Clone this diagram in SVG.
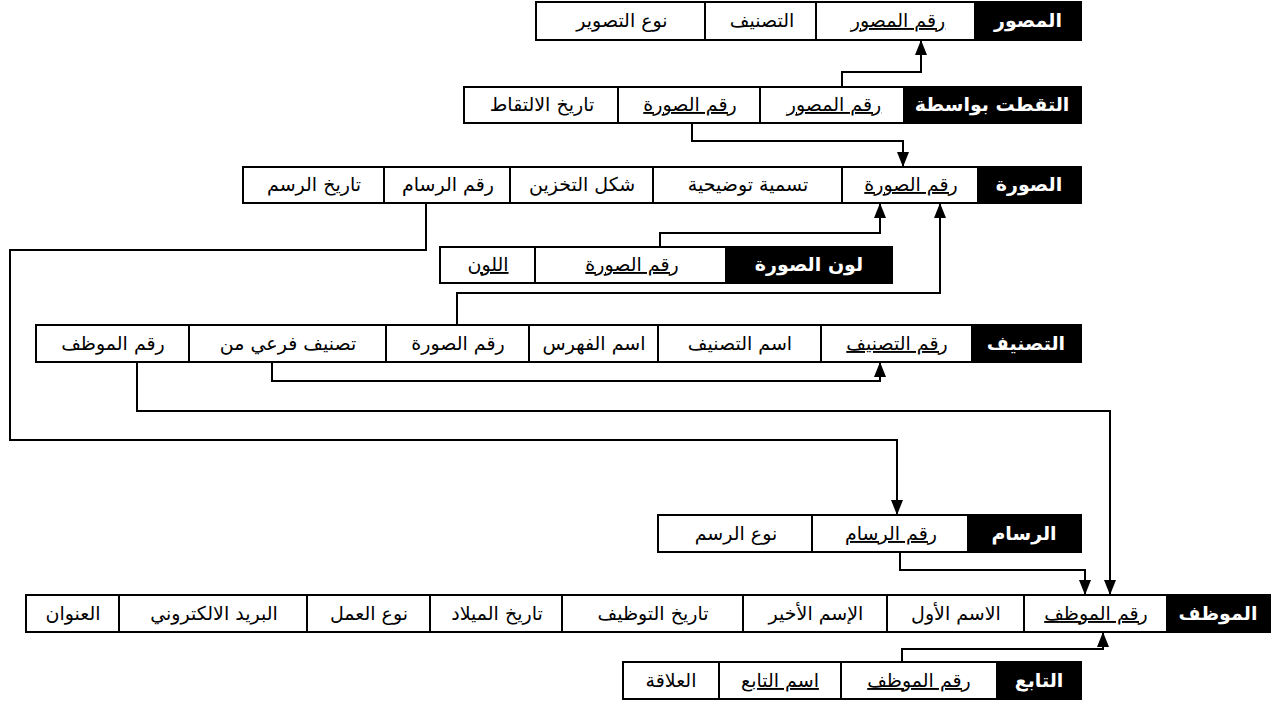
<svg xmlns="http://www.w3.org/2000/svg" width="1281" height="704" viewBox="0 0 1281 704">
<style>
.c{fill:#fff;stroke:#000;stroke-width:2}
.k{fill:#000;stroke:#000;stroke-width:2}
.t{font-family:"DejaVu Sans","Liberation Sans",sans-serif;font-size:19px;fill:#000;text-anchor:middle}
.h{font-family:"DejaVu Sans","Liberation Sans",sans-serif;font-size:19px;font-weight:bold;fill:#fff;text-anchor:middle}
.u{text-decoration:underline}
.ln{fill:none;stroke:#000;stroke-width:2;marker-end:url(#ar)}
</style>
<defs>
<marker id="ar" viewBox="0 0 15 12" refX="15" refY="6" markerWidth="15" markerHeight="12" markerUnits="userSpaceOnUse" orient="auto">
<path d="M0,0 L15,6 L0,12 z" fill="#000"/>
</marker>
</defs>
<g id="connectors">
<path class="ln" d="M842,87 V72 H921 V40"/>
<path class="ln" d="M692,123 V141 H903 V167"/>
<path class="ln" d="M660,247 V233 H880 V203"/>
<path class="ln" d="M457,325 V293 H940 V203"/>
<path class="ln" d="M426,203 V250 H10 V440 H897 V515"/>
<path class="ln" d="M272,362 V381 H880 V362"/>
<path class="ln" d="M137,362 V411 H1110 V595"/>
<path class="ln" d="M900,552 V570 H1085 V595"/>
<path class="ln" d="M902,662 V649 H1103 V632"/>
</g>
<g id="photographer">
<rect class="c" x="536" y="2" width="169" height="38"/>
<rect class="c" x="705" y="2" width="111" height="38"/>
<rect class="c" x="816" y="2" width="159" height="38"/>
<rect class="k" x="975" y="2" width="106" height="38"/>
<text class="t" x="622" y="27">نوع التصوير</text>
<text class="t" x="762" y="27">التصنيف</text>
<text class="t u" x="898" y="27">رقم المصور</text>
<text class="h" x="1028" y="27">المصور</text>
</g>
<g id="takenby">
<rect class="c" x="464" y="87" width="154" height="36"/>
<rect class="c" x="618" y="87" width="142" height="36"/>
<rect class="c" x="760" y="87" width="144" height="36"/>
<rect class="k" x="904" y="87" width="177" height="36"/>
<text class="t" x="542" y="111">تاريخ الالتقاط</text>
<text class="t u" x="690" y="111">رقم الصورة</text>
<text class="t u" x="834" y="111">رقم المصور</text>
<text class="h" x="992" y="111">التقطت بواسطة</text>
</g>
<g id="picture">
<rect class="c" x="243" y="167" width="141" height="36"/>
<rect class="c" x="384" y="167" width="126" height="36"/>
<rect class="c" x="510" y="167" width="143" height="36"/>
<rect class="c" x="653" y="167" width="189" height="36"/>
<rect class="c" x="842" y="167" width="136" height="36"/>
<rect class="k" x="978" y="167" width="103" height="36"/>
<text class="t" x="314" y="191">تاريخ الرسم</text>
<text class="t" x="448" y="191">رقم الرسام</text>
<text class="t" x="582" y="191">شكل التخزين</text>
<text class="t" x="748" y="191">تسمية توضيحية</text>
<text class="t u" x="911" y="191">رقم الصورة</text>
<text class="h" x="1029" y="191">الصورة</text>
</g>
<g id="picturecolor">
<rect class="c" x="440" y="247" width="95" height="36"/>
<rect class="c" x="535" y="247" width="191" height="36"/>
<rect class="k" x="726" y="247" width="166" height="36"/>
<text class="t u" x="488" y="271">اللون</text>
<text class="t u" x="632" y="271">رقم الصورة</text>
<text class="h" x="809" y="271">لون الصورة</text>
</g>
<g id="classification">
<rect class="c" x="36" y="325" width="153" height="37"/>
<rect class="c" x="189" y="325" width="197" height="37"/>
<rect class="c" x="386" y="325" width="143" height="37"/>
<rect class="c" x="529" y="325" width="129" height="37"/>
<rect class="c" x="658" y="325" width="163" height="37"/>
<rect class="c" x="821" y="325" width="151" height="37"/>
<rect class="k" x="972" y="325" width="109" height="37"/>
<text class="t" x="113" y="350">رقم الموظف</text>
<text class="t" x="288" y="350">تصنيف فرعي من</text>
<text class="t" x="458" y="350">رقم الصورة</text>
<text class="t" x="594" y="350">اسم الفهرس</text>
<text class="t" x="740" y="350">اسم التصنيف</text>
<text class="t u" x="897" y="350">رقم التصنيف</text>
<text class="h" x="1026" y="350">التصنيف</text>
</g>
<g id="painter">
<rect class="c" x="658" y="515" width="154" height="37"/>
<rect class="c" x="812" y="515" width="156" height="37"/>
<rect class="k" x="968" y="515" width="113" height="37"/>
<text class="t" x="736" y="540">نوع الرسم</text>
<text class="t u" x="891" y="540">رقم الرسام</text>
<text class="h" x="1024" y="540">الرسام</text>
</g>
<g id="employee">
<rect class="c" x="26" y="595" width="93" height="37"/>
<rect class="c" x="119" y="595" width="188" height="37"/>
<rect class="c" x="307" y="595" width="123" height="37"/>
<rect class="c" x="430" y="595" width="132" height="37"/>
<rect class="c" x="562" y="595" width="181" height="37"/>
<rect class="c" x="743" y="595" width="144" height="37"/>
<rect class="c" x="887" y="595" width="137" height="37"/>
<rect class="c" x="1024" y="595" width="143" height="37"/>
<rect class="k" x="1167" y="595" width="103" height="37"/>
<text class="t" x="73" y="620">العنوان</text>
<text class="t" x="214" y="620">البريد الالكتروني</text>
<text class="t" x="369" y="620">نوع العمل</text>
<text class="t" x="497" y="620">تاريخ الميلاد</text>
<text class="t" x="653" y="620">تاريخ التوظيف</text>
<text class="t" x="816" y="620">الإسم الأخير</text>
<text class="t" x="956" y="620">الاسم الأول</text>
<text class="t u" x="1096" y="620">رقم الموظف</text>
<text class="h" x="1218" y="620">الموظف</text>
</g>
<g id="dependent">
<rect class="c" x="623" y="662" width="96" height="37"/>
<rect class="c" x="719" y="662" width="122" height="37"/>
<rect class="c" x="841" y="662" width="156" height="37"/>
<rect class="k" x="997" y="662" width="84" height="37"/>
<text class="t" x="671" y="687">العلاقة</text>
<text class="t u" x="780" y="687">اسم التابع</text>
<text class="t u" x="919" y="687">رقم الموظف</text>
<text class="h" x="1039" y="687">التابع</text>
</g>
</svg>
